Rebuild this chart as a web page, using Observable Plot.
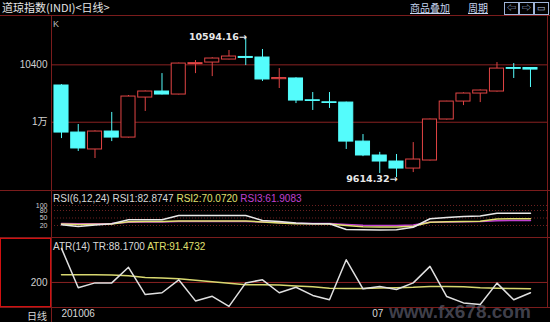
<!DOCTYPE html>
<html><head><meta charset="utf-8">
<script src="https://cdn.jsdelivr.net/npm/d3@7"></script>
<script src="https://cdn.jsdelivr.net/npm/@observablehq/plot@0.6"></script>
<style>
body{margin:0;background:#000;}
#wrap{position:relative;width:550px;height:322px;overflow:hidden;background:#000;font-family:"Liberation Sans","Noto Sans CJK SC",sans-serif;}
.a{position:absolute;white-space:nowrap;}
.hl{position:absolute;height:1px;background:#7a1c1c;}
.vl{position:absolute;width:1px;background:#7a1c1c;}
.btn{position:absolute;top:2px;width:13px;height:11px;border:1px solid #9fb4d8;color:#b8c8e8;font-size:9px;line-height:11px;text-align:center;}
</style></head><body><div id="wrap">
<div class="a" style="left:2px;top:1px;font-size:11px;color:#e6e6e6;font-family:'Noto Sans CJK SC';line-height:13px;">道琼指数(INDI)&lt;日线&gt;</div>
<div class="a" style="left:410px;top:1px;font-size:10px;color:#c8d6f0;font-family:'Noto Sans CJK SC';line-height:13px;text-decoration:underline;">商品叠加</div>
<div class="a" style="left:468px;top:1px;font-size:10px;color:#c8d6f0;font-family:'Noto Sans CJK SC';line-height:13px;text-decoration:underline;">周期</div>
<div class="btn" style="left:504px;">⇦</div>
<div class="btn" style="left:519px;">⇨</div>
<div class="btn" style="left:534px;">▭</div>
<div class="hl" style="left:0;top:15px;width:550px;"></div>
<div class="hl" style="left:0;top:190px;width:550px;"></div>
<div class="hl" style="left:0;top:237px;width:550px;"></div>
<div class="hl" style="left:0;top:307px;width:550px;"></div>
<div class="vl" style="left:51px;top:15px;height:307px;"></div>
<div class="vl" style="left:547px;top:15px;height:292px;"></div>
<div class="a" style="left:0;top:238px;width:49px;height:67px;border:1px solid #d01010;"></div>
<div class="a" style="left:53px;top:19px;font-size:9px;color:#bbb;">K</div>
<div class="a" style="left:53px;top:193px;font-size:10px;line-height:12px;"><span style="color:#d8d8d8">RSI(6,12,24) RSI1:82.8747 </span><span style="color:#e0e070">RSI2:70.0720 </span><span style="color:#c040d0">RSI3:61.9083</span></div>
<div class="a" style="left:53px;top:241px;font-size:10px;line-height:12px;"><span style="color:#d8d8d8">ATR(14) TR:88.1700 </span><span style="color:#e0e070">ATR:91.4732</span></div>
<div class="a" style="left:27px;top:309px;font-size:10px;color:#d8d8d8;font-family:'Noto Sans CJK SC';line-height:13px;">日线</div>
<div class="a" style="left:389px;top:302px;font-size:19px;font-weight:bold;color:rgba(120,120,140,0.55);line-height:19px;">www.fx678.com</div>
</div>
<script>
const dates = ["2010-06-04","2010-06-07","2010-06-08","2010-06-09","2010-06-10","2010-06-11","2010-06-14","2010-06-15","2010-06-16","2010-06-17","2010-06-18","2010-06-21","2010-06-22","2010-06-23","2010-06-24","2010-06-25","2010-06-28","2010-06-29","2010-06-30","2010-07-01","2010-07-02","2010-07-06","2010-07-07","2010-07-08","2010-07-09","2010-07-12","2010-07-13","2010-07-14","2010-07-15"];
const open  = [10256, 9928, 9810, 9935, 9893, 10172, 10214, 10193, 10405, 10416, 10437, 10455, 10451, 10300, 10305, 10153, 10139, 10137, 9865, 9768, 9726, 9677, 9733, 10019, 10144, 10200, 10214, 10378, 10378];
const high  = [10262, 9984, 9940, 10068, 10186, 10218, 10339, 10412, 10430, 10450, 10500, 10594.16, 10507, 10374, 10310, 10207, 10207, 10140, 9914, 9790, 9775, 9858, 10022, 10146, 10205, 10225, 10416, 10409, 10380];
const low   = [9886, 9796, 9747, 9865, 9890, 10075, 10190, 10190, 10339, 10318, 10435, 10395, 10284, 10235, 10130, 10082, 10096, 9810, 9760, 9642, 9614.32, 9649, 9730, 10015, 10116, 10137, 10210, 10305, 10242];
const close = [9928, 9817, 9935, 9893, 10179, 10214, 10193, 10409, 10412, 10444, 10458, 10448, 10298, 10308, 10151, 10148, 10134, 9865, 9768, 9726, 9677, 9740, 10019, 10144, 10200, 10221, 10374, 10372, 10367];
const rsi1 = [23, 16, 22, 27, 43, 43, 43, 60, 60, 60, 60, 60, 40, 36, 30, 27, 27, 4, 3, 2, 3, 13, 47, 52, 56, 58, 69, 69, 69];
const rsi2 = [26, 24, 25, 26, 35, 36, 36, 38, 38, 38, 38, 38, 34, 30, 27, 27, 26, 20, 15, 14, 14, 17, 33, 35, 36, 37, 46, 47, 47];
const rsi3 = [28, 27, 27, 28, 33, 34, 34, 36, 36, 36, 36, 36, 34, 32, 29, 28, 28, 24, 21, 20, 20, 22, 33, 34, 35, 36, 39, 40, 40];
const tr  = [355, 176, 198, 198, 269, 145, 153, 212, 116, 137, 91, 198, 212, 153, 178, 141, 121, 303, 171, 182, 168, 198, 273, 136, 107, 100, 197, 121, 153];
const atr = [235, 235, 235, 234, 230, 223, 220, 217, 210, 203, 196, 190, 189, 188, 184, 180, 174, 172, 172, 175, 176, 178, 182, 182, 180, 176, 174, 172, 171];
const priceTicks = [10000, 10400];
const priceTickLabels = ["1万", "10400"];
const rsiTicks = [20, 50, 80, 100];
const atrTicks = [200];
const firstDateIndex = 0, firstDateText = "201006";
const monthDateIndex = 19, monthDateText = "07";

const RED = "#e04444", CYAN = "#54fcfc";
const FONT = "Liberation Sans, Noto Sans CJK SC, sans-serif";
const candles = dates.map((d, i) => ({i, date: d, o: open[i], h: high[i], l: low[i], c: close[i]}));
const up = candles.filter(d => d.c >= d.o), down = candles.filter(d => d.c < d.o);
const maxC = candles.reduce((a, b) => b.h > a.h ? b : a);
const minC = candles.reduce((a, b) => b.l < a.l ? b : a);
const xDom = [-0.597, 29.016];
const series = (arr) => arr.map((v, i) => ({i, v}));
const wrap = document.getElementById("wrap");
function place(svg, top) {
  const d = document.createElement("div");
  d.style.cssText = `position:absolute;left:0;top:${top}px;`;
  d.appendChild(svg); wrap.appendChild(d);
}
const base = {width: 550, marginLeft: 51, marginRight: 3, marginTop: 0, marginBottom: 0,
  style: {background: "transparent", color: "#d0d0d0", fontFamily: FONT, fontSize: "10px", overflow: "visible"}};

place(Plot.plot({...base, height: 175,
  x: {domain: xDom, axis: null},
  y: {domain: [9524, 10744], axis: null, label: null},
  marks: [
    Plot.ruleY(priceTicks, {stroke: "#8a2222"}),
    Plot.axisY(priceTicks, {tickSize: 0, tickPadding: 4, tickFormat: d => priceTickLabels[priceTicks.indexOf(d)], fill: "#d0d0d0", fontSize: 10, label: null}),
    Plot.ruleX(up, {x: "i", y1: "l", y2: "h", stroke: RED}),
    Plot.ruleX(down, {x: "i", y1: "l", y2: "h", stroke: CYAN}),
    Plot.rect(up, {x1: d => d.i - 0.42, x2: d => d.i + 0.42, y1: "o", y2: "c", fill: "#000", stroke: RED}),
    Plot.rect(down, {x1: d => d.i - 0.42, x2: d => d.i + 0.42, y1: "o", y2: "c", fill: CYAN, stroke: CYAN}),
    Plot.text([maxC], {x: "i", y: "h", text: d => d.h.toFixed(2) + "→", textAnchor: "end", dx: 1, fill: "#e8e8e8", fontSize: 9.5, fontWeight: "bold", fontFamily: "DejaVu Sans"}),
    Plot.text([minC], {x: "i", y: "l", text: d => d.l.toFixed(2) + "→", textAnchor: "end", dx: 1, dy: 1, fill: "#e8e8e8", fontSize: 9.5, fontWeight: "bold", fontFamily: "DejaVu Sans"})
  ]
}), 15);

place(Plot.plot({...base, height: 47,
  x: {domain: xDom, axis: null},
  y: {domain: [-28, 160], axis: null, label: null},
  marks: [
    Plot.ruleY(rsiTicks, {stroke: "#6a2020", strokeDasharray: "1,2"}),
    Plot.axisY(rsiTicks, {tickSize: 0, tickPadding: 4, fill: "#d0d0d0", fontSize: 7, label: null}),
    Plot.line(series(rsi3), {x: "i", y: "v", stroke: "#c040d0"}),
    Plot.line(series(rsi2), {x: "i", y: "v", stroke: "#e0e070"}),
    Plot.line(series(rsi1), {x: "i", y: "v", stroke: "#e8e8e8"})
  ]
}), 190);

place(Plot.plot({...base, height: 84, marginBottom: 15,
  x: {domain: xDom, axis: null},
  y: {domain: [86, 400], axis: null, label: null},
  marks: [
    Plot.ruleY(atrTicks, {stroke: "#8a2222"}),
    Plot.axisY(atrTicks, {tickSize: 0, tickPadding: 4, fill: "#d0d0d0", fontSize: 10, label: null}),
    Plot.line(series(atr), {x: "i", y: "v", stroke: "#d8d870"}),
    Plot.line(series(tr), {x: "i", y: "v", stroke: "#e0e0e0"}),
    Plot.text([firstDateIndex], {x: d => d, frameAnchor: "bottom", dy: 9, text: () => firstDateText, textAnchor: "start", fill: "#d8d8d8", fontSize: 10}),
    Plot.text([monthDateIndex], {x: d => d, frameAnchor: "bottom", dy: 9, dx: -2, text: () => monthDateText, textAnchor: "middle", fill: "#d8d8d8", fontSize: 10})
  ]
}), 238);
</script>
</body></html>
